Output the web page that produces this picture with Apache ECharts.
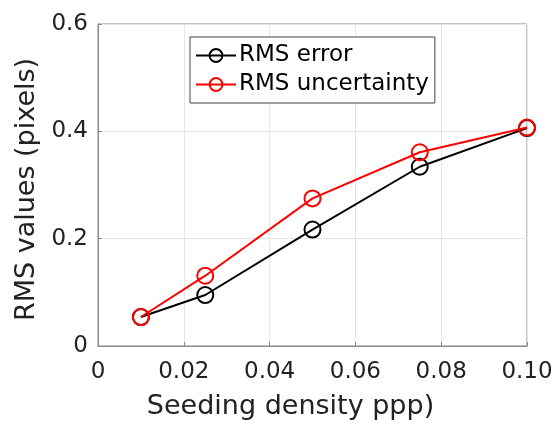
<!DOCTYPE html>
<html>
<head>
<meta charset="utf-8">
<script src="https://cdn.jsdelivr.net/npm/echarts@6/dist/echarts.min.js"></script>
<style>
  html, body { margin: 0; padding: 0; background: #fff; }
  #main { width: 560px; height: 425px; }
</style>
</head>
<body>
<div id="main"></div>
<script>
// seeding density (ppp)
const density = [0.01, 0.025, 0.05, 0.075, 0.1]
const rmsError = [0.054, 0.095, 0.217, 0.334, 0.406]
const rmsUncertainty = [0.054, 0.131, 0.275, 0.361, 0.407]

const xTicks = ['0', '0.02', '0.04', '0.06', '0.08', '0.10']
const yTicks = ['0', '0.2', '0.4', '0.6']

const font = 'DejaVu Sans'
const frameColor = '#8a8a8a'

const pairs = (ys) => density.map((x, i) => [x, ys[i]])

const lineSeries = (name, ys, color) => ({
  name,
  type: 'line',
  data: pairs(ys),
  symbol: 'circle',
  symbolSize: 16,
  color,
  lineStyle: { width: 2, color },
  itemStyle: { color: 'rgba(255,255,255,0)', borderWidth: 2, borderColor: color },
})

const chart = echarts.init(document.getElementById('main'), null, { renderer: 'canvas' })

chart.setOption({
  animation: false,
  backgroundColor: '#fff',
  textStyle: { fontFamily: font },
  grid: {
    left: 98, right: 33, top: 24, bottom: 78,
    show: true, borderColor: frameColor, borderWidth: 1,
  },
  legend: {
    orient: 'vertical',
    left: 190, top: 37,
    backgroundColor: '#fff',
    borderColor: '#444', borderWidth: 1,
    padding: [7, 6, 7, 5],
    itemWidth: 40, itemHeight: 16, itemGap: 6,
    textStyle: { fontFamily: font, fontSize: 23, color: '#000', padding: [0, 0, 0, -2] },
    data: ['RMS error', 'RMS uncertainty'],
  },
  xAxis: {
    type: 'value',
    min: 0, max: 0.1, interval: 0.02,
    name: 'Seeding density ppp)',
    nameLocation: 'middle', nameGap: 47,
    nameTextStyle: { fontFamily: font, fontSize: 27, color: '#222', padding: [0, 44, 0, 0] },
    axisLine: { show: true, lineStyle: { color: frameColor } },
    axisTick: { show: true, inside: true, length: 4, lineStyle: { color: frameColor } },
    axisLabel: {
      fontFamily: font, fontSize: 23, color: '#222', margin: 15,
      formatter: (v) => xTicks[Math.round(v / 0.02)],
    },
    splitLine: { show: true, lineStyle: { color: '#e6e6e6' } },
  },
  yAxis: {
    type: 'value',
    min: 0, max: 0.6, interval: 0.2,
    name: 'RMS values (pixels)',
    nameLocation: 'middle', nameGap: 56,
    nameTextStyle: { fontFamily: font, fontSize: 27, color: '#222', padding: [0, 9, 0, 0] },
    axisLine: { show: true, lineStyle: { color: frameColor } },
    axisTick: { show: true, inside: true, length: 4, lineStyle: { color: frameColor } },
    axisLabel: {
      fontFamily: font, fontSize: 23, color: '#222', margin: 10,
      formatter: (v) => yTicks[Math.round(v / 0.2)],
    },
    splitLine: { show: true, lineStyle: { color: '#e6e6e6' } },
  },
  series: [
    lineSeries('RMS error', rmsError, '#000'),
    lineSeries('RMS uncertainty', rmsUncertainty, '#ff0000'),
  ],
})
</script>
</body>
</html>
